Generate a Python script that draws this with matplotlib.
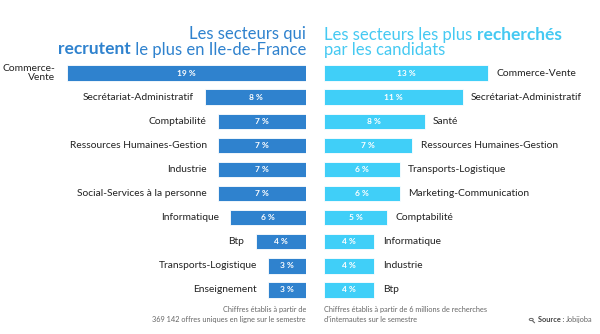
import matplotlib
matplotlib.use("Agg")
import matplotlib.pyplot as plt

left_labels = ["Commerce-\nVente", "Secrétariat-Administratif", "Comptabilité",
               "Ressources Humaines-Gestion", "Industrie", "Social-Services à la personne",
               "Informatique", "Btp", "Transports-Logistique", "Enseignement"]
left_values = [19, 8, 7, 7, 7, 7, 6, 4, 3, 3]

right_labels = ["Commerce-Vente", "Secrétariat-Administratif", "Santé",
                "Ressources Humaines-Gestion", "Transports-Logistique",
                "Marketing-Communication", "Comptabilité", "Informatique",
                "Industrie", "Btp"]
right_values = [13, 11, 8, 7, 6, 6, 5, 4, 4, 4]

LEFT_COLOR = "#2F82CE"
RIGHT_COLOR = "#40CFF8"
LEFT_TITLE = "#2F82CE"
RIGHT_TITLE = "#45C9F2"
TEXT = "#222222"
GRAY = "#666666"
FONT = "Lato"

W, H = 600, 334
fig = plt.figure(figsize=(W / 100, H / 100), dpi=100)
fig.patch.set_facecolor("white")

PX_PER_PCT = 12.6
TOP, BOT = 61, 302


def fx(x):
    return x / W


def fy(y):
    return 1 - y / H


axL = fig.add_axes([0, fy(BOT), fx(306), (BOT - TOP) / H])
axL.set_xlim(306 / PX_PER_PCT, 0)
axR = fig.add_axes([fx(324), fy(BOT), fx(W - 324), (BOT - TOP) / H])
axR.set_xlim(0, (W - 324) / PX_PER_PCT)

n = len(left_values)
ys = list(range(n))
for ax in (axL, axR):
    ax.set_ylim(n - 0.5, -0.5)
    ax.axis("off")

axL.barh(ys, left_values, height=0.64, color=LEFT_COLOR, edgecolor="white", linewidth=0.6)
axR.barh(ys, right_values, height=0.64, color=RIGHT_COLOR, edgecolor="white", linewidth=0.6)

LS = 7.4
for y, v, lab in zip(ys, left_values, left_labels):
    axL.text(v / 2, y, f"{v} %", ha="center", va="center", color="white",
             fontsize=6, fontweight="bold", family=FONT)
    axL.annotate(lab, xy=(v, y), xytext=(-8, 0), textcoords="offset points",
                 ha="right", va="center", color=TEXT, fontsize=LS, family=FONT,
                 linespacing=1.1)

for y, v, lab in zip(ys, right_values, right_labels):
    axR.text(v / 2, y, f"{v} %", ha="center", va="center", color="white",
             fontsize=6, fontweight="bold", family=FONT)
    axR.annotate(lab, xy=(v, y), xytext=(6, 0), textcoords="offset points",
                 ha="left", va="center", color=TEXT, fontsize=LS, family=FONT)

# Titles
TS = 12
fig.text(fx(306), fy(39.5), "Les secteurs qui", ha="right", va="baseline",
         color=LEFT_TITLE, fontsize=TS, family=FONT)
t2 = fig.text(fx(306), fy(54.5), " le plus en Ile-de-France", ha="right", va="baseline",
              color=LEFT_TITLE, fontsize=TS, family=FONT)
r1 = fig.text(fx(324), fy(40), "Les secteurs les plus ", ha="left", va="baseline",
              color=RIGHT_TITLE, fontsize=TS, family=FONT)
fig.text(fx(324), fy(54.5), "par les candidats", ha="left", va="baseline",
         color=RIGHT_TITLE, fontsize=TS, family=FONT)

fig.canvas.draw()
r = fig.canvas.get_renderer()
bb2 = t2.get_window_extent(r)
fig.text(bb2.x0 / W, fy(54.5), "recrutent", ha="right", va="baseline",
         color=LEFT_TITLE, fontsize=TS + 0.5, fontweight="bold", family=FONT)
bbr = r1.get_window_extent(r)
fig.text(bbr.x1 / W, fy(40), "recherchés", ha="left", va="baseline",
         color=RIGHT_TITLE, fontsize=TS + 0.5, fontweight="bold", family=FONT)

# Footnotes
fig.text(fx(306), fy(322), "Chiffres établis à partir de\n369 142 offres uniques en ligne sur le semestre",
         ha="right", va="baseline", color=GRAY, fontsize=5.3, family=FONT, linespacing=1.45,
         multialignment="right")
fig.text(fx(324), fy(322), "Chiffres établis à partir de 6 millions de recherches\nd'internautes sur le semestre",
         ha="left", va="baseline", color=GRAY, fontsize=5.3, family=FONT, linespacing=1.45)
s2 = fig.text(fx(593), fy(322), "Jobijoba", ha="right", va="baseline", color=GRAY,
              fontsize=5.3, family=FONT)
fig.canvas.draw()
bs = s2.get_window_extent(fig.canvas.get_renderer())
s1 = fig.text(bs.x0 / W, fy(322), "Source : ", ha="right", va="baseline", color="#444444",
              fontsize=5.3, fontweight="bold", family=FONT)
fig.canvas.draw()
bs1 = s1.get_window_extent(fig.canvas.get_renderer())
cx, cy = bs1.x0 - 7, fy(319.5) * H
circ = plt.Circle((cx / W, cy / H), 2.0 / W, transform=fig.transFigure, fill=False,
                  edgecolor=GRAY, linewidth=0.7)
fig.add_artist(circ)
fig.add_artist(plt.Line2D([(cx + 1.4) / W, (cx + 3.2) / W], [(cy - 1.4) / H, (cy - 3.2) / H],
                          transform=fig.transFigure, color=GRAY, linewidth=0.8))

fig.savefig("out.png", dpi=100)
